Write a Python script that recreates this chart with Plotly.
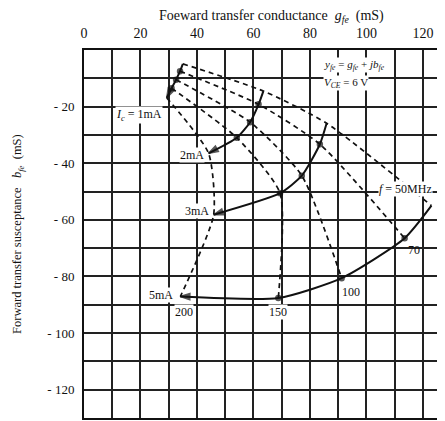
import plotly.graph_objects as go

# ---- data (mS) ----
freqs_mhz = [50, 70, 100, 150, 200]
ic_names = ["1mA", "2mA", "3mA", "5mA"]

g_1mA = [35.0, 34.0, 32.6, 31.0, 29.3]
b_1mA = [-4.9, -7.5, -10.5, -13.5, -16.9]
g_2mA = [63.5, 61.8, 58.8, 54.1, 44.1]
b_2mA = [-14.5, -19.2, -25.5, -31.0, -36.5]
g_3mA = [85.9, 83.5, 77.1, 69.4, 45.9]
b_3mA = [-25.9, -33.3, -44.4, -50.6, -58.2]
g_5mA = [123.0, 113.5, 91.2, 68.8, 34.1]
b_5mA = [-55.0, -66.5, -80.6, -87.6, -87.1]

x_tick_vals = [0, 20, 40, 60, 80, 100, 120]
x_tick_text = ["0", "20", "40", "60", "80", "100", "120"]
y_tick_vals = [-20, -40, -60, -80, -100, -120]
y_tick_text = ["- 20", "- 40", "- 60", "- 80", "- 100", "- 120"]

curves_g = [g_1mA, g_2mA, g_3mA, g_5mA]
curves_b = [b_1mA, b_2mA, b_3mA, b_5mA]

FONT = "Liberation Serif"
fig = go.Figure()

# constant-frequency dashed lines
for k, f in enumerate(freqs_mhz):
    fig.add_trace(go.Scatter(
        x=[c[k] for c in curves_g], y=[c[k] for c in curves_b],
        mode="lines", line=dict(color="#111", width=1.7, dash="5px,4px", shape="spline", smoothing=0.6),
        hoverinfo="skip", showlegend=False))

# constant-current solid curves
for i, name in enumerate(ic_names):
    syms = ["circle", "circle", "circle", "circle", "arrow"]
    sizes = [4, 5, 5, 5, 10]
    if name == "5mA":
        syms[0] = "triangle-right-open"
        sizes[0] = 8
    fig.add_trace(go.Scatter(
        x=curves_g[i], y=curves_b[i], mode="lines+markers", name=name,
        line=dict(color="#111", width=2, shape="spline", smoothing=0.6),
        marker=dict(symbol=syms, size=sizes, color="#111", angleref="previous",
                    line=dict(color="#111", width=1.5)),
        showlegend=False))

ann = []
def lab(x, y, text, xanchor="center", size=12, bg="white"):
    ann.append(dict(x=x, y=y, xref="x", yref="y", text=text, showarrow=False,
                    xanchor=xanchor, yanchor="middle", bgcolor=bg, borderpad=0,
                    font=dict(family=FONT, size=size, color="#111")))

lab(19.5, -23.0, "<i>I<sub>c</sub></i> = 1mA")
lab(43.0, -37.0, "2mA", xanchor="right")
lab(44.5, -57.0, "3mA", xanchor="right")
lab(32.0, -86.5, "5mA", xanchor="right")
lab(35.4, -92.5, "200")
lab(68.7, -92.5, "150")
lab(94.5, -85.5, "100")
lab(117.0, -70.6, "70", bg="rgba(0,0,0,0)")
lab(104.0, -49.0, "<i>f</i> = 50MHz", xanchor="left")
lab(84.6, -5.2, "<i>y<sub>fe</sub></i> = <i>g<sub>fe</sub></i> + <i>jb<sub>fe</sub></i>", xanchor="left", size=11)
lab(84.6, -11.7, "<i>V<sub>CE</sub></i> = 6 V", xanchor="left", size=11)

ann.append(dict(x=0.52, y=1.092, xref="paper", yref="paper", showarrow=False,
                text="Foeward transfer conductance  <i>g<sub>fe</sub></i>  (mS)",
                xanchor="center", yanchor="middle",
                font=dict(family=FONT, size=14, color="#111")))
ann.append(dict(x=-0.183, y=0.5, xref="paper", yref="paper", showarrow=False,
                text="Forward transfer susceptance   <i>b<sub>fe</sub></i>  (mS)",
                textangle=-90, xanchor="center", yanchor="middle",
                font=dict(family=FONT, size=12.5, color="#111")))

grid = dict(showgrid=True, gridcolor="#222", gridwidth=1.5)
minor = dict(dtick=10, tick0=0, showgrid=True, gridcolor="#222", gridwidth=1.5)
fig.update_layout(
    width=437, height=413, margin=dict(l=76, r=0, t=42, b=3),
    paper_bgcolor="white", plot_bgcolor="white", annotations=ann,
    xaxis=dict(range=[0, 127.8], side="top", tickvals=x_tick_vals, ticktext=x_tick_text,
               minor=minor, showline=True, linecolor="#111", linewidth=2, mirror=True,
               zeroline=False, ticks="", ticklabelstandoff=4,
               tickfont=dict(family=FONT, size=14, color="#111"), **grid),
    yaxis=dict(range=[-130, 0], tickvals=y_tick_vals, ticktext=y_tick_text,
               minor=minor, showline=True, linecolor="#111", linewidth=2, zeroline=False,
               ticks="", ticklabelstandoff=5,
               tickfont=dict(family=FONT, size=13, color="#111"), **grid),
)

fig.write_html("out.html")
